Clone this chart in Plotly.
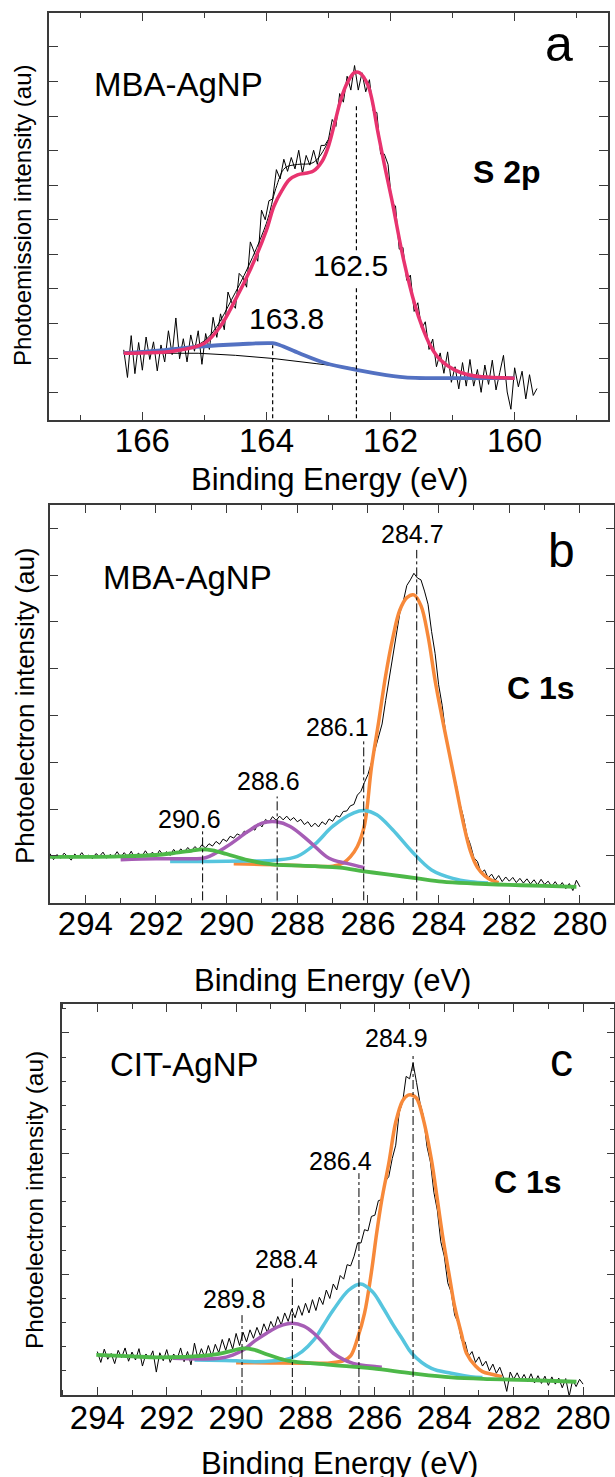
import plotly.graph_objects as go

W, H = 615, 1477
FONT = "Liberation Sans, Arial, sans-serif"

# ---------------- Panel a : S 2p (MBA-AgNP) ----------------
a_start, a_step = 166.30, 0.06
a_counts = [1.24,0.44,1.65,0.55,1.45,0.65,1.61,0.96,1.47,0.63,
            1.38,0.89,1.79,1.10,2.16,0.98,1.56,0.89,1.67,1.20,
            1.79,0.82,1.71,1.25,2.18,1.60,2.28,1.82,2.91,2.60,
            2.44,3.45,3.33,3.05,4.36,4.08,3.80,5.28,5.00,5.55,
            5.60,6.45,6.18,6.75,6.40,6.80,6.47,7.01,6.34,6.86,
            6.58,7.01,6.60,7.15,7.15,7.33,7.90,7.70,8.65,8.40,
            9.15,8.75,9.46,8.75,9.25,8.70,9.05,8.15,8.10,6.90,
            6.90,6.60,5.48,5.40,4.15,4.20,3.25,3.40,2.35,2.60,
            1.85,2.05,1.25,1.55,0.75,1.15,0.56,1.18,0.30,0.75,
            0.11,0.87,0.19,0.96,0.19,0.67,0.01,0.80,0.24,0.94,
            0.08,0.58,1.08,0.02,-0.48,0.72,0.17,0.62,-0.18,0.52,
            -0.08,0.12]
a_energy = [round(a_start - a_step * i, 2) for i in range(len(a_counts))]

a_fit_e = [166.3,166.0,165.5,165.0,164.75,164.5,164.25,164.0,163.88,163.75,163.63,163.5,
           163.25,163.1,163.0,162.9,162.8,162.7,162.58,162.5,162.36,162.2,162.1,161.98,
           161.79,161.6,161.5,161.35,161.2,160.97,160.75,160.53,160.0]
a_fit = [1.14,1.15,1.2,1.43,1.9,2.69,3.6,4.7,5.39,5.85,6.16,6.3,
         6.4,6.7,7.13,7.8,8.48,8.95,9.26,9.25,8.87,7.5,6.6,5.58,
         3.85,2.49,1.95,1.33,0.95,0.66,0.52,0.46,0.42]

a_comp_e = [166.3,165.7,165.08,164.44,163.9,163.79,163.47,163.04,162.55,162.07,161.85,161.6,161.0,160.0]
a_comp = [1.14,1.22,1.33,1.40,1.43,1.38,1.14,0.85,0.66,0.51,0.46,0.43,0.42,0.42]

a_bg_e = [166.3,165.1,164.5,163.9,163.2,162.55]
a_bg = [1.14,1.14,1.08,0.99,0.84,0.70]

a_env_e = [166.3,165.5,165.0,164.5,164.0,163.85,163.7,163.5,163.25,163.05,162.9]
a_env = [1.14,1.22,1.5,2.9,4.9,5.9,6.5,6.6,6.65,7.1,7.8]

a_peaks = [163.9, 162.55]
a_peak_tops = [1.37, 8.36]
a_label_gap = [3.11, 4.12]      # gap in the 162.5 line around its label
a_line_bottom = -0.74
a_labels = ["163.8", "162.5"]

# ---------------- Panel b : C 1s (MBA-AgNP) ----------------
b_start, b_step = 295.0, 0.1
b_counts = [0.05,-0.08,0.03,-0.05,0.06,-0.02,-0.09,0.04,-0.03,0.07,
            -0.04,0.02,-0.06,0.05,-0.01,0.08,-0.05,0.03,-0.02,0.09,
            -0.03,0.07,-0.02,0.10,-0.06,0.06,-0.01,0.11,0.00,0.08,
            -0.02,0.12,0.02,0.09,0.01,0.14,0.04,0.15,0.08,0.18,
            0.10,0.20,0.13,0.24,0.17,0.26,0.21,0.31,0.25,0.36,
            0.31,0.42,0.38,0.47,0.43,0.53,0.49,0.60,0.55,0.70,
            0.62,0.78,0.72,0.84,0.76,0.85,0.77,0.85,0.76,0.82,
            0.73,0.78,0.67,0.73,0.62,0.70,0.62,0.73,0.67,0.79,
            0.74,0.86,0.83,0.95,0.96,1.07,1.10,1.30,1.38,1.57,
            1.74,2.00,2.28,2.58,2.82,3.32,3.78,4.28,4.73,5.18,
            5.44,5.78,5.90,6.04,5.94,5.90,5.66,5.38,4.80,4.33,
            3.66,3.22,2.62,2.24,1.82,1.53,1.12,0.84,0.45,0.24,
            -0.04,-0.12,-0.36,-0.30,-0.47,-0.39,-0.52,-0.42,-0.55,-0.45,
            -0.54,-0.46,-0.57,-0.48,-0.58,-0.49,-0.60,-0.51,-0.62,-0.50,
            -0.61,-0.54,-0.65,-0.55,-0.67,-0.57,-0.70,-0.59,-0.74,-0.52,
            -0.66]
b_energy = [round(b_start - b_step * i, 2) for i in range(len(b_counts))]

b_c1_e = [289.8,288.5,287.5,287.0,286.7,286.5,286.3,286.1,285.9,285.7,285.5,285.3,285.1,284.9,
          284.7,284.5,284.3,284.1,283.9,283.7,283.5,283.3,283.1,282.9,282.7,282.5,282.3]
b_c1 = [-0.17,-0.19,-0.22,-0.22,-0.15,-0.02,0.2,0.65,1.9,2.85,3.85,4.65,5.25,5.52,
        5.58,5.35,4.7,3.75,2.95,2.2,1.45,0.7,0.1,-0.25,-0.42,-0.52,-0.57]
b_c2_e = [291.6,290.5,289.5,288.6,288.0,287.5,287.0,286.4,286.1,285.75,285.3,284.75,284.2,283.6,283.1,282.6]
b_c2 = [-0.12,-0.12,-0.11,-0.09,-0.01,0.25,0.63,0.92,0.97,0.88,0.56,0.09,-0.3,-0.48,-0.55,-0.58]
b_c3_e = [293.0,292.0,291.0,290.6,290.0,289.4,289.0,288.6,288.2,287.6,287.1,286.6,286.1]
b_c3 = [-0.08,-0.06,-0.06,-0.04,0.2,0.52,0.7,0.73,0.63,0.27,-0.05,-0.16,-0.25]
b_c4_e = [295.0,294.0,293.0,292.0,291.5,291.0,290.7,290.4,290.0,289.4,288.7,287.5,286.8,286.1,
          285.4,284.6,283.9,283.0,282.0,281.0,280.1]
b_c4 = [-0.02,-0.02,-0.01,0.02,0.06,0.11,0.14,0.12,0.04,-0.09,-0.18,-0.22,-0.25,-0.33,
        -0.4,-0.48,-0.55,-0.59,-0.62,-0.64,-0.66]

b_peaks = [290.68, 288.57, 286.12, 284.62]
b_peak_tops = [0.59, 1.27, 2.48, 6.54]
b_line_bottom = -0.95
b_labels = ["290.6", "288.6", "286.1", "284.7"]

# ---------------- Panel c : C 1s (CIT-AgNP) ----------------
c_start, c_step = 294.0, 0.1
c_counts = [1.80,1.35,1.90,1.48,1.72,1.30,1.85,1.55,1.95,1.40,
            1.78,1.45,1.92,1.20,1.70,1.50,1.83,0.95,1.75,1.42,
            1.88,1.35,1.70,1.48,1.95,1.38,1.80,1.25,2.15,1.50,
            1.92,1.55,2.05,1.60,2.10,1.75,2.30,1.85,2.35,1.90,
            2.55,2.05,2.60,2.20,2.70,2.35,2.80,2.45,2.95,2.60,
            3.05,2.75,3.25,2.90,3.40,3.05,3.55,3.20,3.70,3.30,
            3.80,3.40,3.95,3.50,4.05,3.75,4.35,4.00,4.60,4.35,
            4.95,4.80,5.40,5.35,5.75,6.30,6.30,6.85,6.80,7.40,
            7.45,8.05,8.10,8.85,9.05,9.80,10.35,11.70,12.15,13.20,
            13.10,13.75,12.95,12.10,11.55,10.30,9.65,8.40,7.65,6.35,
            5.75,4.65,4.25,3.30,3.00,2.25,2.20,1.60,1.80,1.35,
            1.58,1.20,1.40,1.00,1.28,0.90,1.15,0.75,0.15,0.95,
            0.65,0.92,0.60,0.85,0.55,0.88,0.50,0.80,0.48,0.78,
            0.40,0.75,0.45,0.70,0.30,0.68,-0.05,0.62,0.35,0.65,
            0.45]
c_energy = [round(c_start - c_step * i, 2) for i in range(len(c_counts))]

c_c1_e = [290.0,289.0,288.0,287.3,286.9,286.7,286.5,286.3,286.1,285.95,285.8,285.6,285.4,285.2,
          285.05,284.94,284.8,284.6,284.37,284.2,284.03,283.85,283.7,283.5,283.36,283.1,282.9,282.6,282.34]
c_c1 = [1.34,1.33,1.32,1.33,1.42,1.62,2.35,3.38,5.1,6.7,8.1,9.6,11.3,12.2,
        12.42,12.43,12.3,11.4,9.74,8.1,6.42,4.9,3.66,2.5,1.73,1.2,0.97,0.85,0.76]
c_c2_e = [291.2,290.0,289.46,288.9,288.44,288.1,287.76,287.5,287.2,286.75,286.41,286.07,285.8,
          285.5,285.2,284.94,284.37,283.8,283.24,282.9]
c_c2 = [1.45,1.42,1.38,1.42,1.52,1.8,2.28,2.85,3.52,4.35,4.6,4.28,3.7,
        2.97,2.3,1.73,1.1,0.9,0.76,0.72]
c_c3_e = [291.83,290.47,290.1,289.8,289.45,289.12,288.75,288.38,288.05,287.76,287.45,287.2,286.63,285.95,285.8]
c_c3 = [1.52,1.52,1.65,1.86,2.25,2.56,2.85,2.97,2.85,2.56,2.1,1.73,1.31,1.17,1.15]
c_c4_e = [294.03,293.0,292.28,291.5,291.0,290.5,290.1,289.8,289.5,289.1,288.6,288.33,287.2,286.07,
          284.94,283.8,282.68,281.55,280.19]
c_c4 = [1.66,1.6,1.56,1.58,1.62,1.7,1.84,1.93,1.88,1.68,1.45,1.38,1.24,1.1,
        0.9,0.73,0.66,0.62,0.55]

c_peaks = [289.83, 288.38, 286.46, 284.9]
c_peak_tops = [3.31, 4.83, 9.19, 14.16]
c_line_bottom = 0.0
c_labels = ["289.8", "288.4", "286.4", "284.9"]

# colours
PINK = "#E8336F"
BLUE = "#5371C2"
ORANGE = "#F7893A"
CYAN = "#56C5DE"
MAGENTA = "#A65DB5"
GREEN = "#4DB848"
AXC = "#3a3a3a"

fig = go.Figure()


def line(x, y, color, width, ax, shape="linear", dash=None):
    fig.add_trace(go.Scatter(x=x, y=y, mode="lines", xaxis="x" + ax, yaxis="y" + ax,
                             line=dict(color=color, width=width, shape=shape, dash=dash),
                             hoverinfo="skip", showlegend=False))


# panel a traces
line(a_bg_e, a_bg, "black", 1, "")
line(a_energy, a_counts, "black", 1, "")
line(a_env_e, a_env, "black", 1, "", "spline")
line(a_comp_e, a_comp, BLUE, 3.8, "", "spline")
line(a_fit_e, a_fit, PINK, 3.5, "", "spline")
# dashed guides
line([a_peaks[0], a_peaks[0]], [a_line_bottom, a_peak_tops[0]], "black", 1.2, "", dash="4px,3px")
line([a_peaks[1], a_peaks[1], None, a_peaks[1], a_peaks[1]],
     [a_line_bottom, a_label_gap[0], None, a_label_gap[1], a_peak_tops[1]], "black", 1.2, "", dash="4px,3px")

# panel b traces
line(b_energy, b_counts, "black", 1, "2")
line(b_c1_e, b_c1, ORANGE, 3.5, "2", "spline")
line(b_c2_e, b_c2, CYAN, 3.5, "2", "spline")
line(b_c3_e, b_c3, MAGENTA, 3.5, "2", "spline")
line(b_c4_e, b_c4, GREEN, 3.8, "2", "spline")
for p, t in zip(b_peaks, b_peak_tops):
    line([p, p], [b_line_bottom, t], "black", 1, "2", dash="dashdot")

# panel c traces
line(c_energy, c_counts, "black", 1, "3")
line(c_c1_e, c_c1, ORANGE, 3.5, "3", "spline")
line(c_c2_e, c_c2, CYAN, 3.5, "3", "spline")
line(c_c3_e, c_c3, MAGENTA, 3.5, "3", "spline")
line(c_c4_e, c_c4, GREEN, 3.8, "3", "spline")
for p, t in zip(c_peaks, c_peak_tops):
    line([p, p], [c_line_bottom, t], "black", 1, "3", dash="dashdot")


def dom_x(l, r):
    return [l / W, r / W]


def dom_y(top, bottom):
    return [1 - bottom / H, 1 - top / H]


common = dict(showline=True, linecolor=AXC, linewidth=1.5, mirror="ticks", ticks="inside",
              tickcolor=AXC, tickwidth=1.3, showgrid=False, zeroline=False, fixedrange=True)
xminor = dict(dtick=1, ticks="inside", ticklen=5, tickcolor=AXC, tickwidth=1.3, showgrid=False)


def xax(domain, rng, anchor, size, standoff):
    return dict(common, domain=domain, range=rng, anchor=anchor, tick0=280, dtick=2, ticklen=8,
                minor=xminor, ticklabelstandoff=standoff,
                tickfont=dict(family=FONT, size=size, color="black"))


def yax(domain, rng, anchor, dtick, ticklen, minor=None):
    d = dict(common, domain=domain, range=rng, anchor=anchor, tick0=0, dtick=dtick,
             ticklen=ticklen, showticklabels=False)
    if minor:
        d["minor"] = minor
    return d


fig.update_layout(
    width=W, height=H, autosize=False,
    margin=dict(l=0, r=0, t=0, b=0),
    paper_bgcolor="white", plot_bgcolor="white",
    showlegend=False,
    font=dict(family=FONT, color="black"),
    xaxis=xax(dom_x(49.3, 607.7), [167.5, 158.5], "y", 33, -9),
    yaxis=yax(dom_y(13.3, 420), [-0.79, 10.97], "x", 1, 9),
    xaxis2=xax(dom_x(50, 613.5), [295.0, 279.05], "y2", 33, -9),
    yaxis2=yax(dom_y(505, 902.7), [-1.0, 7.5], "x2", 1, 8),
    xaxis3=xax(dom_x(61.6, 614.3), [295.03, 279.1], "y3", 33, -7),
    yaxis3=yax(dom_y(1004, 1395), [0, 16.2], "x3", 5, 8,
               minor=dict(dtick=1, ticks="inside", ticklen=5, tickcolor=AXC, tickwidth=1.3, showgrid=False)),
)

anns = []


def ann(text, xp, yp, size, bold=False, angle=0):
    anns.append(dict(text=("<b>%s</b>" % text) if bold else text, x=xp / W, y=1 - yp / H,
                     xref="paper", yref="paper", xanchor="center", yanchor="middle",
                     showarrow=False, textangle=angle,
                     font=dict(family=FONT, size=size, color="black")))


# panel a texts
ann("MBA-AgNP", 178, 84, 33)
ann("a", 559, 44, 50)
ann("S 2p", 507, 172, 32, bold=True)
ann(a_labels[1], 351, 265, 30)
ann(a_labels[0], 286, 319, 30)
ann("Binding Energy (eV)", 329, 480, 31)
ann("Photoemission intensity (au)", 22, 216, 24, angle=-90)

# panel b texts
ann("MBA-AgNP", 187, 577, 33)
ann("b", 561, 550, 48)
ann("C 1s", 541, 688, 32, bold=True)
for t, (xp, yp) in zip(b_labels, [(189, 819), (268, 781), (337, 727), (412, 534)]):
    ann(t, xp, yp, 25)
ann("Binding Energy (eV)", 332, 980, 31)
ann("Photoelectron intensity (au)", 25, 706, 26, angle=-90)

# panel c texts
ann("CIT-AgNP", 184, 1064, 33)
ann("c", 561, 1060, 46)
ann("C 1s", 528, 1182, 32, bold=True)
for t, (xp, yp) in zip(c_labels, [(234, 1299), (286, 1259), (340, 1161), (396, 1038)]):
    ann(t, xp, yp, 25)
ann("Binding Energy (eV)", 339, 1463, 31)
ann("Photoelectron intensity (au)", 34, 1200, 24.5, angle=-90)

fig.update_layout(annotations=anns)
fig.write_html("out.html")
